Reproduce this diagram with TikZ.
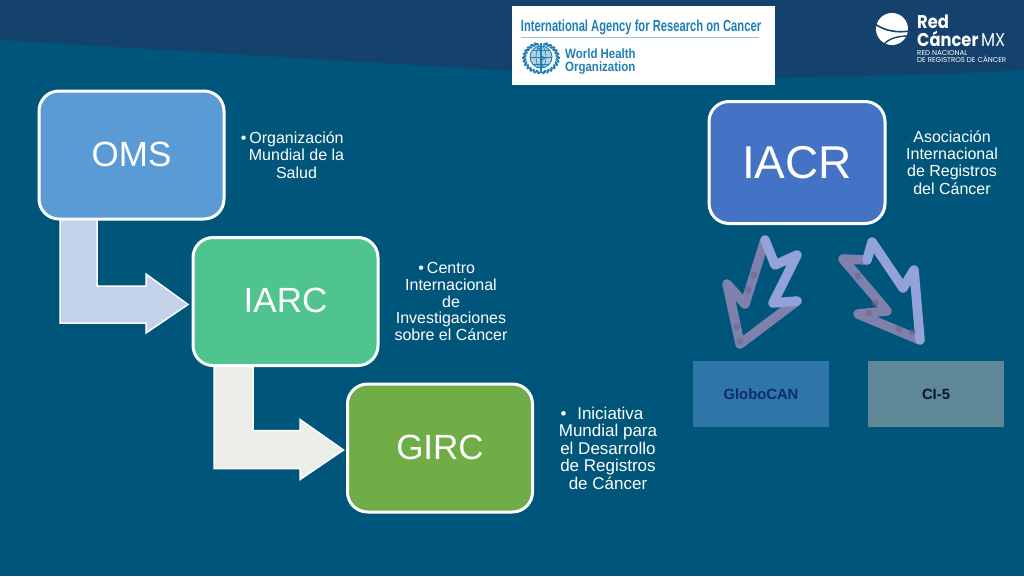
\documentclass[tikz,border=0pt]{standalone}
\usepackage{fontspec}
\setmainfont{Liberation Sans}
\newfontfamily\logofont{Poppins}
\usetikzlibrary{calc}
\definecolor{bgteal}{HTML}{00567A}
\definecolor{bandblue}{HTML}{14426C}
\definecolor{omsblue}{HTML}{5B9BD5}
\definecolor{iarcgreen}{HTML}{4FC48E}
\definecolor{gircgreen}{HTML}{70AD47}
\definecolor{iacrblue}{HTML}{4472C4}
\definecolor{whoblue}{HTML}{1F7FB4}
\definecolor{handlight}{HTML}{93A3DA}
\definecolor{handdark}{HTML}{8080AC}
\definecolor{handspot}{HTML}{6F6288}
\definecolor{bentone}{HTML}{C3D2E9}
\definecolor{benttwo}{HTML}{ECEFE9}
\definecolor{globfill}{HTML}{2E75A8}
\definecolor{globtext}{HTML}{0F2C6E}
\definecolor{cifill}{HTML}{5E8797}
\definecolor{citext}{HTML}{081826}
\newcommand{\bul}[1][3pt]{\llap{•\hspace{#1}}}
\newcommand{\lift}[1]{\raisebox{1.5pt}{#1}}
\tikzset{
  x=1pt,y=-1pt,
  topbox/.style={draw=white,line width=3pt,rounded corners=20pt,text=white,inner sep=0pt,outer sep=0pt,
    minimum width=185pt,minimum height=128pt,font=\fontsize{35}{35}\selectfont},
  desc/.style={text=white,align=center,inner sep=0pt,font=\fontsize{16}{17.3}\selectfont},
  smallbox/.style={minimum width=136pt,minimum height=66pt,inner sep=0pt,outer sep=0pt,font=\fontsize{14.8}{15}\bfseries\selectfont},
  bent/.style={draw=white,line width=1.5pt,miter limit=10},
  hand/.style={line width=9.5pt,line join=round,line cap=round},
  whotext/.style={text=whoblue,inner sep=0pt,anchor=base west,font=\bfseries\fontsize{13.5}{13}\selectfont},
  logotext/.style={text=white,inner sep=0pt,anchor=base west},
}
\begin{document}
\begin{tikzpicture}
\useasboundingbox (0,0) rectangle (1024,576);
\fill[bgteal] (0,0) rectangle (1024,576);
\fill[bandblue] (0,0) -- (0,40) -- (512,71) .. controls (680,78) and (760,79) .. (800,77) .. controls (880,76) and (960,74) .. (1024,70) -- (1024,0) -- cycle;

% bent arrows (behind the boxes): box anchors first
\path node[topbox,draw=none] (oms0) at (131.5,155) {}
      node[topbox,draw=none] (iarc0) at (285.5,301.5) {}
      node[topbox,draw=none] (girc0) at (440,448) {};
\draw[bent,fill=bentone]
  ($(oms0.south west)+(21,0)$) -- ($(oms0.south west)+(21,104)$) -- ($(oms0.south west)+(107,104)$)
  -- ($(oms0.south west)+(107,114)$) -- ($(iarc0.west)+(-5,3)$) -- ($(oms0.south west)+(107,55)$)
  -- ($(oms0.south west)+(107,67)$) -- ($(oms0.south west)+(58,67)$) -- ($(oms0.south west)+(58,0)$);
\draw[bent,fill=benttwo]
  ($(iarc0.south west)+(21,0)$) -- ($(iarc0.south west)+(21,103)$) -- ($(iarc0.south west)+(107,103)$)
  -- ($(iarc0.south west)+(107,114)$) -- ($(girc0.west)+(-4,2)$) -- ($(iarc0.south west)+(107,54)$)
  -- ($(iarc0.south west)+(107,65)$) -- ($(iarc0.south west)+(60,65)$) -- ($(iarc0.south west)+(60,0)$);

% main boxes
\node[topbox,fill=omsblue] (oms) at (131.5,155) {\lift{OMS}};
\node[topbox,fill=iarcgreen] (iarc) at (285.5,301.5) {\lift{IARC}};
\node[topbox,fill=gircgreen] (girc) at (440,448) {\raisebox{.8pt}{GIRC}};
\node[topbox,fill=iacrblue,minimum width=176pt,minimum height=122pt,font=\fontsize{46}{46}\selectfont] (iacr) at (797,162.5) {IACR};

% descriptions
\node[desc] (omsd) at (296.5,155) {\bul Organización\\Mundial de la\\Salud};
\node[desc,font=\fontsize{16}{16.8}\selectfont] (iarcd) at (451,301.5) {\bul Centro\\Internacional\\de\\Investigaciones\\sobre el Cáncer};
\node[desc,font=\fontsize{17}{17.5}\selectfont] (gircd) at (608,448) {\bul[6pt] Iniciativa\\Mundial para\\el Desarrollo\\de Registros\\de Cáncer};
\node[desc] (iacrd) at (952,162.5) {\textcolor{bandblue}{\bul[5pt]}Asociación\\Internacional\\de Registros\\del Cáncer};

% small boxes
\node[smallbox,fill=globfill,text=globtext] (glob) at (761,394) {GloboCAN};
\node[smallbox,fill=cifill,text=citext] (ci) at (936,394) {CI-5};

% hand-drawn arrows
\draw[hand,handdark] (797,301) -- (740,344) -- (727,284) -- (745,304) -- (765,240);
\draw[hand,handlight] (765,240) -- (775,265) -- (797,255) -- (773,303) -- (797,301);
\draw[hand,handdark] (920,340) -- (858,314) -- (887,311) -- (843,259) -- (867,260);
\draw[hand,handlight] (867,260) -- (872,242) -- (903,288) -- (914,270) -- (920,340);
\foreach \px/\py in {740/341, 737/327, 748/290, 754/275, 875/303, 869/313, 899/329, 912/332, 858/276}
  \fill[handspot,opacity=.55] (\px,\py) circle (3.5);

% IARC / WHO logo
\fill[white] (512,6) rectangle (775,85);
\node[text=whoblue,inner sep=0pt,font=\bfseries\fontsize{16}{16}\selectfont,anchor=center] (iarclogo) at (641,27) {\scalebox{.70}[1]{International Agency for Research on Cancer}};
\fill[whoblue!45!white] (521,36.5) rectangle (759,38);
\node[whotext] (who1) at (565,58) {\scalebox{.85}[1]{World Health}};
\node[whotext] (who2) at (565,71) {\scalebox{.85}[1]{Organization}};
\begin{scope}[whoblue]
  \fill[whoblue!35!white] (541,57) circle (11);
  \draw[line width=.9pt] (541,57) circle (11);
  \draw[line width=.6pt] (530,57) -- (552,57) (533,50) -- (549,50) (533,64) -- (549,64);
  \draw[line width=.6pt] (541,57) ellipse (5 and 11);
  \draw[line width=1.2pt] (541,43) -- (541,73);
  \draw[line width=1pt] (537,48) .. controls (546,50) and (536,55) .. (545,58) .. controls (537,61) and (545,65) .. (541,68);
  \foreach \a in {100,114,...,260}{
    \draw[line width=2.3pt,line cap=round] ({541+15.5*cos(\a)},{58-13.5*sin(\a)}) -- ({541+18*cos(\a+10)},{58-15.5*sin(\a+10)});
    \draw[line width=2.3pt,line cap=round] ({541-15.5*cos(\a)},{58-13.5*sin(\a)}) -- ({541-18*cos(\a+10)},{58-15.5*sin(\a+10)});
  }
\end{scope}

% Red Cancer MX logo
\fill[white] (892,29) circle (16);
\draw[bandblue,line width=1.6pt] (875,24) .. controls (885,31) and (897,33) .. (910,31);
\draw[bandblue,line width=1.4pt] (884,44) .. controls (890,38) and (898,36) .. (909,36);
\node[logotext,font=\logofont\bfseries\fontsize{18.5}{19}\selectfont] (red) at (917,28) {\scalebox{.88}[1]{Red}};
\node[logotext,font=\logofont\fontsize{18.5}{19}\selectfont] (can) at (917,46) {\scalebox{.88}[1]{\textbf{Cáncer}\,MX}};
\node[logotext,font=\logofont\fontsize{7.1}{7}\selectfont] (rn1) at (917,55.5) {RED NACIONAL};
\node[logotext,font=\logofont\fontsize{7.1}{7}\selectfont] (rn2) at (917,62) {DE REGISTROS DE CÁNCER};
\end{tikzpicture}
\end{document}
